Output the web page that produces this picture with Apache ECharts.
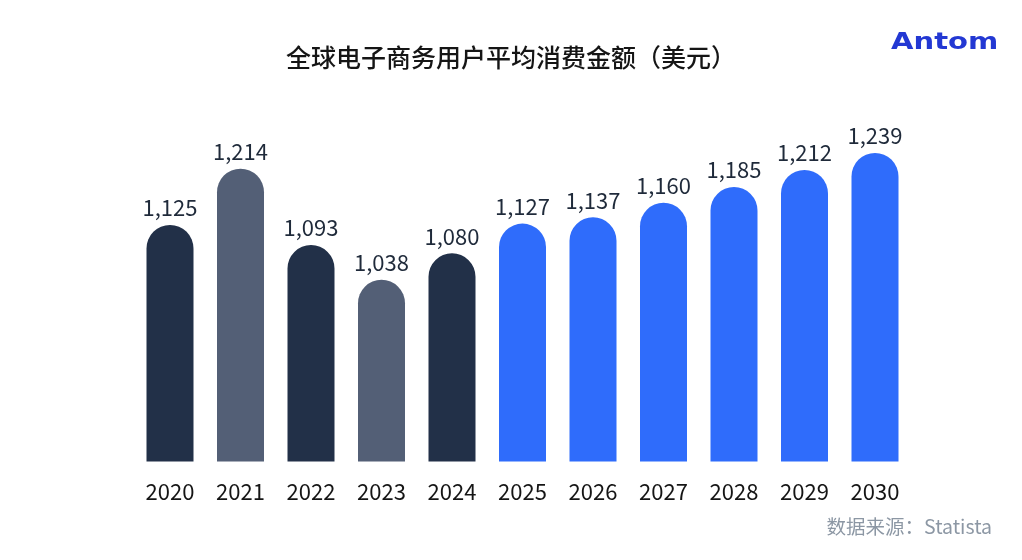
<!DOCTYPE html>
<html><head><meta charset="utf-8">
<script src="https://cdn.jsdelivr.net/npm/echarts@6/dist/echarts.min.js"></script>
<style>html,body{margin:0;padding:0;background:#fff}#c{width:1022px;height:560px}</style>
</head><body><div id="c"></div>
<script>
const categories = ['2020','2021','2022','2023','2024','2025','2026','2027','2028','2029','2030'];
const values = [1125,1214,1093,1038,1080,1127,1137,1160,1185,1212,1239];
const barColors = ['#223048','#535f76','#223048','#535f76','#223048','#2f6cfb','#2f6cfb','#2f6cfb','#2f6cfb','#2f6cfb','#2f6cfb'];
const font = '"Noto Sans CJK SC","Noto Sans",sans-serif';
const chart = echarts.init(document.getElementById('c'));
chart.setOption({
  animation:false,
  backgroundColor:'#fff',
  title:{text:'全球电子商务用户平均消费金额（美元）',left:506,top:40,textAlign:'center',
    textStyle:{fontFamily:font,fontSize:25,fontWeight:500,color:'#151515'}},
  graphic:[
    {type:'text',x:891,y:43,scaleX:1.32,scaleY:1.05,style:{text:'Antom',fontFamily:'"DejaVu Sans",sans-serif',fontSize:22,fontWeight:'bold',fill:'#2338d3',textAlign:'left',textVerticalAlign:'middle'}},
    {type:'text',right:30,top:517,style:{text:'数据来源：Statista',fontFamily:font,fontSize:19.5,fill:'#8c97a4'}}
  ],
  grid:{left:134.75,right:111.75,top:146,bottom:98.5},
  xAxis:{type:'category',data:categories,axisLine:{show:false},axisTick:{show:false},
    axisLabel:{margin:19,fontFamily:font,fontSize:22,color:'#151515'}},
  yAxis:{type:'value',min:750,max:1250,show:false,splitLine:{show:false}},
  series:[{type:'bar',barWidth:47,
    data:values.map((v,i)=>({value:v,itemStyle:{color:barColors[i]}})),
    itemStyle:{borderRadius:[23.5,23.5,0,0]},
    label:{show:true,position:'top',distance:6,fontFamily:font,fontSize:22,color:'#1f2a3a',
      formatter:p=>p.value.toLocaleString('en-US')}}]
});
</script></body></html>
